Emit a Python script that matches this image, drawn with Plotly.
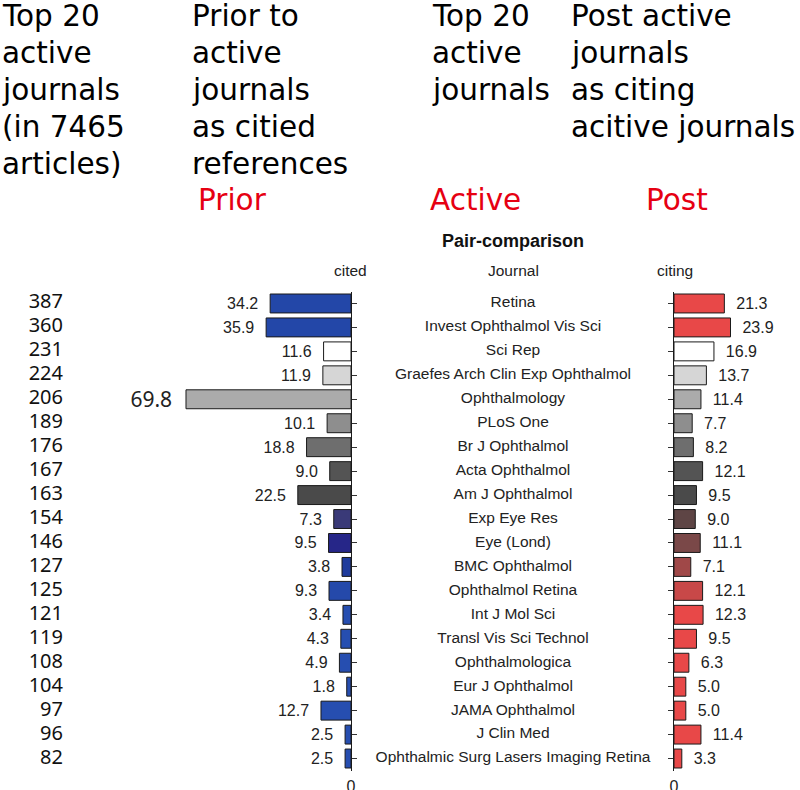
import plotly.graph_objects as go

journals = ["Retina", "Invest Ophthalmol Vis Sci", "Sci Rep", "Graefes Arch Clin Exp Ophthalmol",
            "Ophthalmology", "PLoS One", "Br J Ophthalmol", "Acta Ophthalmol", "Am J Ophthalmol",
            "Exp Eye Res", "Eye (Lond)", "BMC Ophthalmol", "Ophthalmol Retina", "Int J Mol Sci",
            "Transl Vis Sci Technol", "Ophthalmologica", "Eur J Ophthalmol", "JAMA Ophthalmol",
            "J Clin Med", "Ophthalmic Surg Lasers Imaging Retina"]
articles = [387, 360, 231, 224, 206, 189, 176, 167, 163, 154, 146, 127, 125, 121, 119, 108, 104, 97, 96, 82]
cited = [34.2, 35.9, 11.6, 11.9, 69.8, 10.1, 18.8, 9.0, 22.5, 7.3, 9.5, 3.8, 9.3, 3.4, 4.3, 4.9, 1.8, 12.7, 2.5, 2.5]
citing = [21.3, 23.9, 16.9, 13.7, 11.4, 7.7, 8.2, 12.1, 9.5, 9.0, 11.1, 7.1, 12.1, 12.3, 9.5, 6.3, 5.0, 5.0, 11.4, 3.3]

cited_colors = ["#2347a8", "#2347a8", "#ffffff", "#d6d6d6", "#ababab", "#8e8e8e", "#6e6e6e", "#545454",
                "#4a4a4a", "#3a3a78", "#262688", "#1f3b9c", "#2549aa", "#264eb0", "#264eb0", "#264eb0",
                "#264eb0", "#264eb0", "#264eb0", "#264eb0"]
citing_colors = ["#e84848", "#e84848", "#ffffff", "#d6d6d6", "#ababab", "#8e8e8e", "#6e6e6e", "#545454",
                 "#4a4a4a", "#5e4545", "#7a4848", "#a04848", "#c84848", "#e84848", "#e84848", "#e84848",
                 "#e84848", "#e84848", "#e84848", "#e84848"]

header_cols = [
    ["Top 20", "active", "journals", "(in 7465", "articles)"],
    ["Prior to", "active", "journals", "as citied", "references"],
    ["Top 20", "active", "journals"],
    ["Post active", "journals", "as citing", "acitive journals"],
]
header_x = [0, 190, 430, 569]
red_labels = ["Prior", "Active", "Post"]
red_x = [196, 428, 644]

W, H = 800, 790
row_top, row_bot = 291.5, 770.5
ydom = [1 - row_bot / H, 1 - row_top / H]
left_zero = 351
right_zero = 674
pxu = 2.364
HFONT = "DejaVu Sans"

fig = go.Figure()

big = [i for i, v in enumerate(cited) if v == max(cited)]
cited_text = [f"{v:.1f}\u00a0\u00a0" for v in cited]
sizes = [21 if i in big else 16 for i in range(len(cited))]
fams = ["Noto Sans" if i in big else "Liberation Sans, Arial" for i in range(len(cited))]

fig.add_trace(go.Bar(
    x=cited, y=journals, orientation="h", xaxis="x", yaxis="y",
    marker=dict(color=cited_colors, line=dict(color="#1a1a1a", width=1)),
    width=0.79, text=cited_text, textposition="outside", cliponaxis=False,
    constraintext="none",
    textfont=dict(size=sizes, family=fams, color="#222222"),
    hoverinfo="skip", showlegend=False,
))
fig.add_trace(go.Bar(
    x=citing, y=journals, orientation="h", xaxis="x2", yaxis="y2",
    marker=dict(color=citing_colors, line=dict(color="#1a1a1a", width=1)),
    width=0.79, text=[f"\u00a0\u00a0{v:.1f}" for v in citing], textposition="outside",
    cliponaxis=False, constraintext="none",
    textfont=dict(size=16, family="Liberation Sans, Arial", color="#222222"),
    hoverinfo="skip", showlegend=False,
))
fig.add_trace(go.Scatter(
    x=[0.5] * len(journals), y=journals, mode="text", text=journals,
    textposition="middle center", xaxis="x3", yaxis="y3",
    textfont=dict(size=15.5, family="Liberation Sans, Arial", color="#222222"),
    hoverinfo="skip", showlegend=False, cliponaxis=False,
))
fig.add_trace(go.Scatter(
    x=[1] * len(journals), y=journals, mode="text", text=[str(a) for a in articles],
    textposition="middle left", xaxis="x4", yaxis="y4",
    textfont=dict(size=20, family="Noto Sans", color="#111111"),
    hoverinfo="skip", showlegend=False, cliponaxis=False,
))

yrange = [len(journals) - 0.5, -0.5]
common_y = dict(domain=ydom, range=yrange, showgrid=False, zeroline=False, showticklabels=False,
                automargin=False)
tickfont0 = dict(size=16, family="Liberation Sans, Arial", color="#222222")

fig.update_layout(
    width=W, height=H, autosize=False,
    margin=dict(l=0, r=0, t=0, b=0, autoexpand=False),
    paper_bgcolor="white", plot_bgcolor="rgba(0,0,0,0)",
    xaxis=dict(domain=[0, left_zero / W], range=[left_zero / pxu, 0], showgrid=False, zeroline=False,
               tickvals=[0], ticktext=["0"], ticks="", ticklabelstandoff=4, automargin=False,
               tickfont=tickfont0, showline=False),
    yaxis=dict(anchor="x", side="right", showline=True, linecolor="#1a1a1a", linewidth=1,
               ticks="outside", ticklen=5, tickcolor="#333333", tickwidth=1, type="category", **common_y),
    xaxis2=dict(domain=[right_zero / W, 1], range=[0, (W - right_zero) / pxu], showgrid=False,
                zeroline=False, tickvals=[0], ticktext=["0"], ticks="", ticklabelstandoff=4,
                automargin=False, tickfont=tickfont0, showline=False),
    yaxis2=dict(anchor="x2", side="left", showline=True, linecolor="#1a1a1a", linewidth=1,
                ticks="outside", ticklen=5, tickcolor="#333333", tickwidth=1, matches="y",
                type="category", **common_y),
    xaxis3=dict(domain=[360 / W, 666 / W], range=[0, 1], visible=False, automargin=False),
    yaxis3=dict(anchor="x3", matches="y", type="category", visible=False, **common_y),
    xaxis4=dict(domain=[0, 63 / W], range=[0, 1], visible=False, automargin=False),
    yaxis4=dict(anchor="x4", matches="y", type="category", visible=False, **common_y),
)

annotations = []
for col, x0 in zip(header_cols, header_x):
    for k, line in enumerate(col):
        yc = 16 + 37 * k
        annotations.append(dict(
            x=x0 / W, y=1 - yc / H, xref="paper", yref="paper", xanchor="left", yanchor="middle",
            text=line, showarrow=False, font=dict(size=29.5, family=HFONT, color="#000000"),
        ))
for lab, x0 in zip(red_labels, red_x):
    annotations.append(dict(
        x=x0 / W, y=1 - 200 / H, xref="paper", yref="paper", xanchor="left", yanchor="middle",
        text=lab, showarrow=False, font=dict(size=29.5, family=HFONT, color="#e60012"),
    ))
annotations.append(dict(x=513 / W, y=1 - 241 / H, xref="paper", yref="paper", xanchor="center",
                        yanchor="middle", text="<b>Pair-comparison</b>", showarrow=False,
                        font=dict(size=18, family="Liberation Sans, Arial", color="#111111")))
for lab, xc in zip(["cited", "Journal", "citing"], [350, 513, 675]):
    annotations.append(dict(x=xc / W, y=1 - 270 / H, xref="paper", yref="paper", xanchor="center",
                            yanchor="middle", text=lab, showarrow=False,
                            font=dict(size=15.5, family="Liberation Sans, Arial", color="#222222")))
fig.update_layout(annotations=annotations)

fig.write_html("out.html", config={"displayModeBar": False},
               post_script="document.body.style.margin='0';")
